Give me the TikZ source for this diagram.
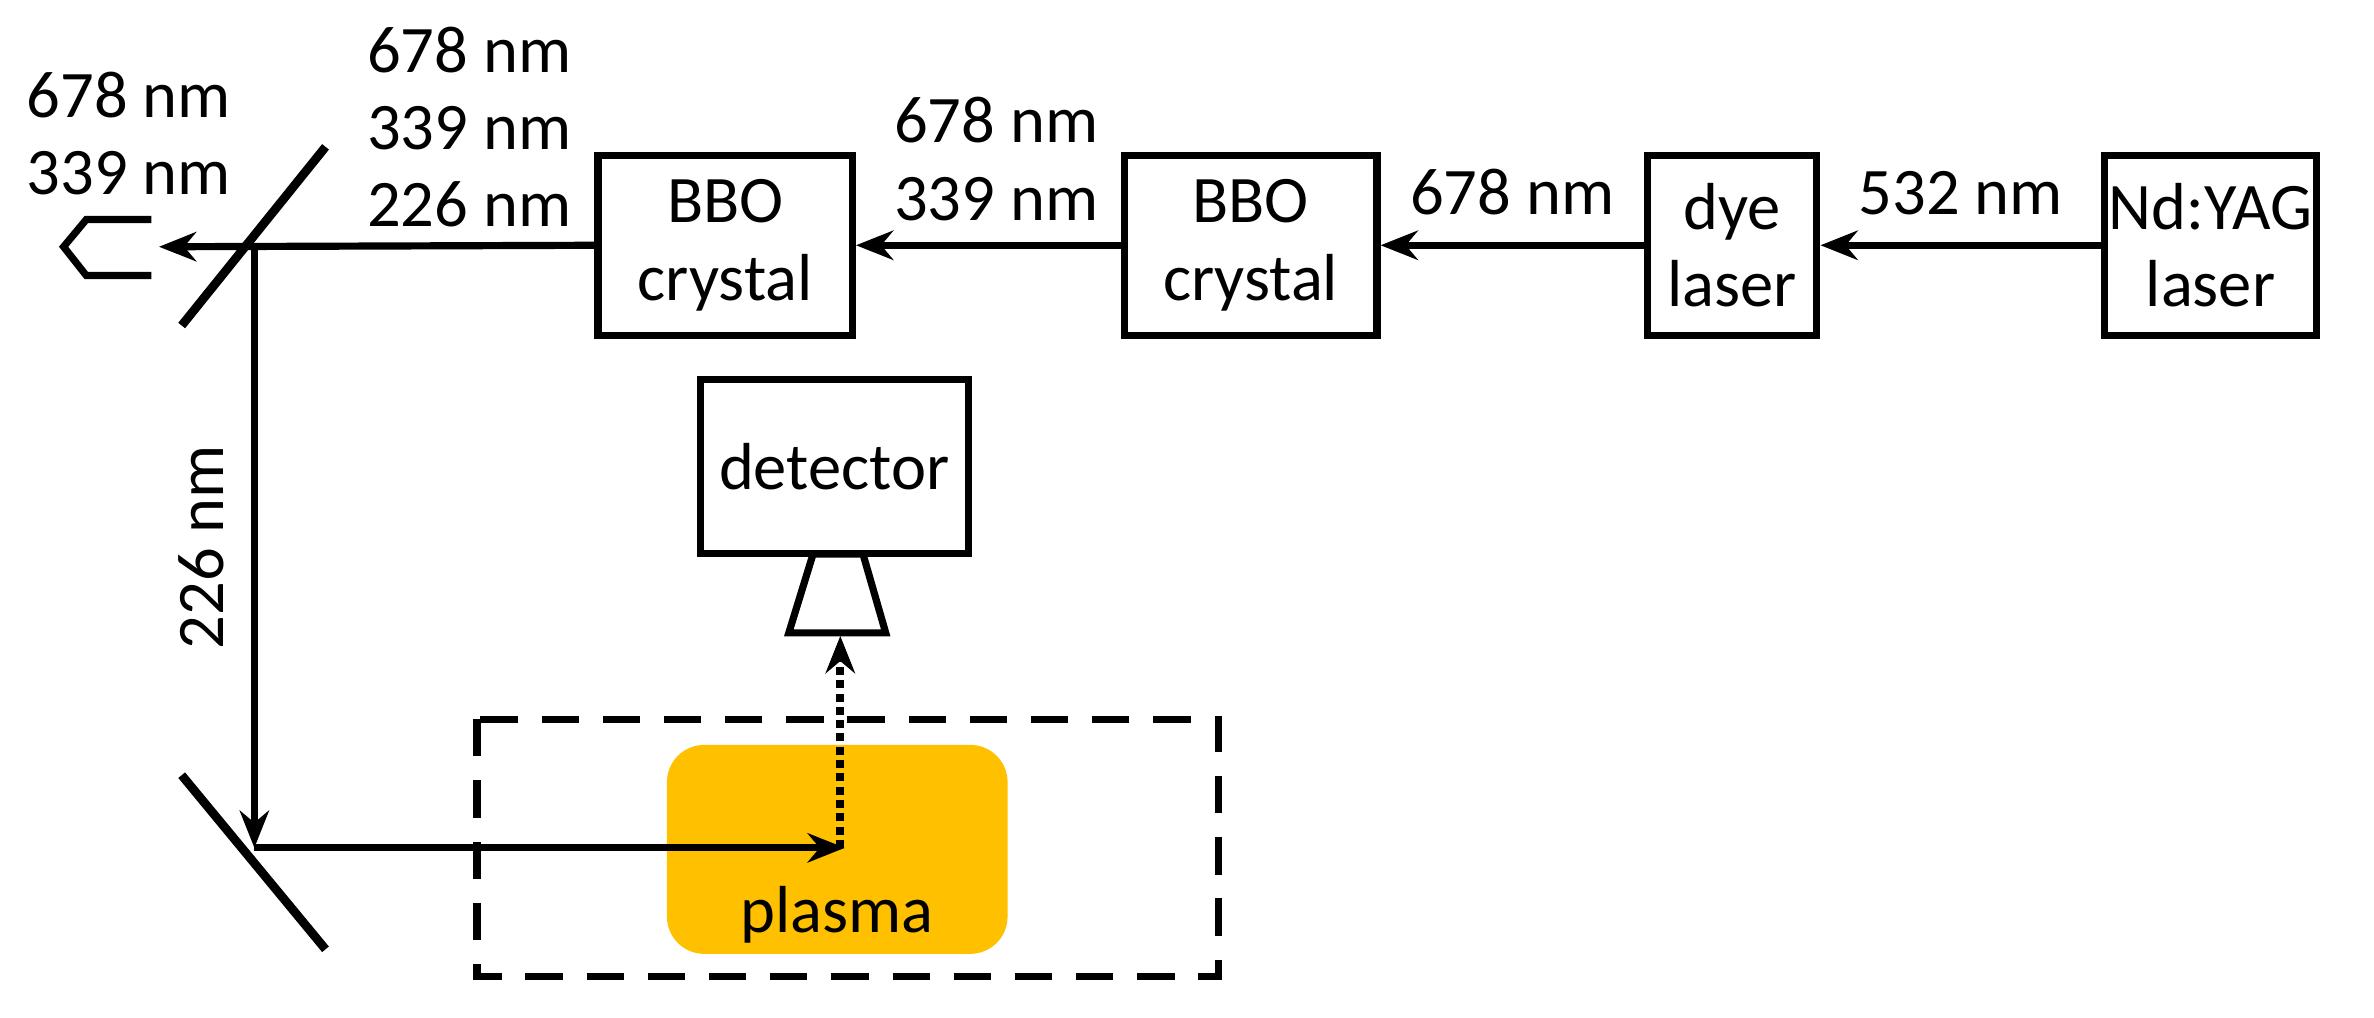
\documentclass[tikz,border=0pt]{standalone}
\usepackage{fontspec}
\setmainfont{Carlito}
\usetikzlibrary{arrows.meta}
\begin{document}
\begin{tikzpicture}[x=0.02cm,y=-0.02cm,line width=2.7pt,
  font=\fontsize{25}{29}\selectfont,
  box/.style={draw,align=center,inner sep=0pt},
  lab/.style={align=center,inner sep=0pt},
  arr/.style={-{Stealth[length=14pt,width=11pt]}}]
\useasboundingbox (0,0) rectangle (1568,672);
\node[box,minimum width=140*0.02cm,minimum height=119*0.02cm] (yag) at (1460,162) {Nd:YAG\\laser};
\node[box,minimum width=112*0.02cm,minimum height=119*0.02cm] (dye) at (1144,162) {dye\\laser};
\node[box,minimum width=167*0.02cm,minimum height=119*0.02cm] (bbo2) at (826,162) {BBO\\crystal};
\node[box,minimum width=168*0.02cm,minimum height=119*0.02cm] (bbo1) at (479,162) {BBO\\crystal};
\node[box,minimum width=177*0.02cm,minimum height=115*0.02cm] (det) at (551,308) {detector};
\coordinate (m1) at (168,163);
\coordinate (m2) at (168,560);
\coordinate (dump) at (105,163);
\coordinate (tip) at (558,560);
\coordinate (dt) at (555,420);
\draw[arr] (yag.west) -- (dye.east) node[lab,midway,above=10pt] {532 nm};
\draw[arr] (dye.west) -- (bbo2.east) node[lab,midway,above=10pt] {678 nm};
\draw[arr] (bbo2.west) -- (bbo1.east);
\node[lab] (l2) at (658,105) {678 nm\\339 nm};
\node[lab] (l1) at (310,84) {678 nm\\339 nm\\226 nm};
\node[lab] (l0) at (85,88) {678 nm\\339 nm};
\draw[arr] (bbo1.west) -- (dump);
\draw (100,145) -- (57,145) -- (42,163) -- (57,182) -- (100,182);
\draw[line width=3.3pt] (120,215) -- (215,97);
\draw[line width=3.3pt] (120,512) -- (215,627);
\draw[arr] (m1) -- (m2) node[lab,midway,left=10pt,rotate=90,anchor=south] {226 nm};
\draw[dashed,dash pattern=on 14pt off 9pt] (315,475) rectangle (805,645);
\node[fill={rgb,255:red,255;green,192;blue,0},rounded corners=14pt,minimum width=225*0.02cm,minimum height=138*0.02cm,inner sep=0pt] (pl) at (553,561) {};
\node[lab] (plt) at (553,604) {plasma};
\draw[arr] (m2) -- (tip);
\draw (537,366) -- (570,366) -- (585,418) -- (521,418) -- cycle;
\draw[arr,dotted,line width=3pt] (555,560) -- (dt);
\end{tikzpicture}
\end{document}
